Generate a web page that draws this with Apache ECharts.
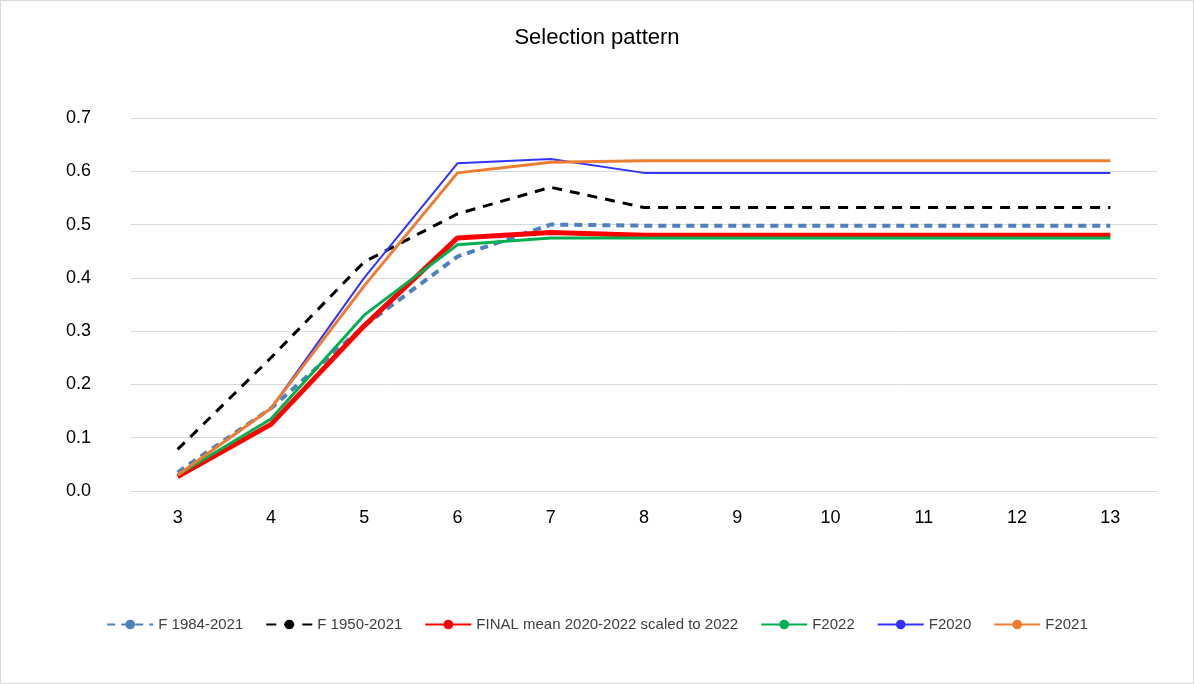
<!DOCTYPE html>
<html><head><meta charset="utf-8">
<script src="https://cdn.jsdelivr.net/npm/echarts@6/dist/echarts.min.js"></script>
<style>html,body{margin:0;padding:0;background:#fff}#c{width:1194px;height:684px;box-sizing:border-box;border:1px solid #d9d9d9}</style>
</head><body><div id="c"></div>
<script>
const ages = ['3','4','5','6','7','8','9','10','11','12','13'];
const f1984 = [0.035,0.155,0.31,0.44,0.50,0.498,0.498,0.498,0.498,0.498,0.498];
const f1950 = [0.078,0.25,0.43,0.52,0.57,0.532,0.532,0.532,0.532,0.532,0.532];
const finalMean = [0.027,0.125,0.31,0.475,0.485,0.48,0.48,0.48,0.48,0.48,0.48];
const f2022 = [0.03,0.135,0.33,0.462,0.475,0.475,0.475,0.475,0.475,0.475,0.475];
const f2020 = [0.03,0.155,0.40,0.615,0.623,0.597,0.597,0.597,0.597,0.597,0.597];
const f2021 = [0.03,0.155,0.385,0.597,0.617,0.62,0.62,0.62,0.62,0.62,0.62];
const chart = echarts.init(document.getElementById('c'));
const mk = (name, data, color, width, type) => ({name, type:'line', data, symbol:'none',
  lineStyle:{color, width, type}, itemStyle:{color}});
chart.setOption({
  animation:false,
  textStyle:{fontFamily:'Liberation Sans, Arial, sans-serif'},
  title:{text:'Selection pattern', left:'center', top:21, textStyle:{fontSize:22, fontWeight:'normal', color:'#000'}},
  grid:{left:130, right:36, top:117, bottom:192},
  legend:{bottom:46, itemGap:22, itemWidth:46, itemHeight:12, textStyle:{fontSize:15, color:'#404040'}},
  xAxis:{type:'category', data:ages, boundaryGap:true, axisTick:{show:false},
    axisLine:{lineStyle:{color:'#d9d9d9'}}, axisLabel:{fontSize:18, color:'#000', margin:18}},
  yAxis:{type:'value', min:0, max:0.7, interval:0.1, axisLabel:{fontSize:18, color:'#000', margin:40,
    formatter:v=>v.toFixed(1)}, splitLine:{lineStyle:{color:'#d9d9d9'}}},
  series:[
    mk('F 1984-2021', f1984, '#4f81bd', 4, [8,6]),
    mk('F 1950-2021', f1950, '#000000', 3, [10,8]),
    mk('FINAL mean 2020-2022 scaled to 2022', finalMean, '#ff0000', 5, 'solid'),
    mk('F2022', f2022, '#00b050', 3, 'solid'),
    mk('F2020', f2020, '#3333ff', 2, 'solid'),
    mk('F2021', f2021, '#ed7d31', 3, 'solid')
  ]
});
</script></body></html>
